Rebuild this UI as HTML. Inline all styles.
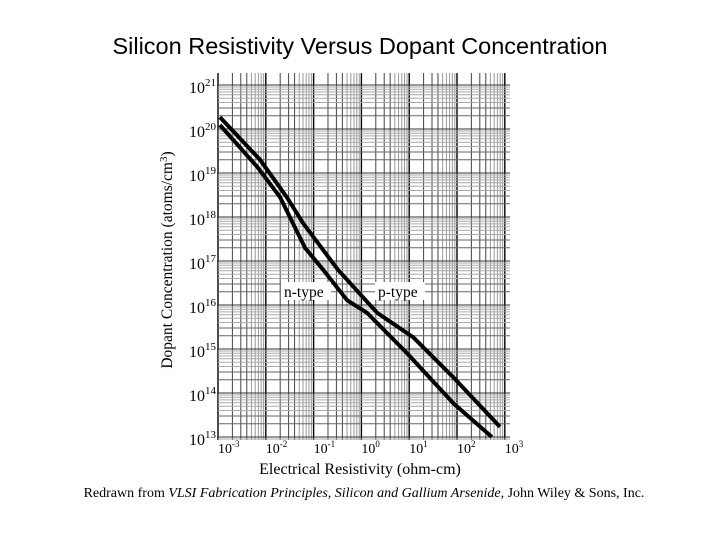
<!DOCTYPE html>
<html><head><meta charset="utf-8"><style>
body{margin:0;width:720px;height:540px;background:#fff;overflow:hidden;font-family:"Liberation Serif",serif}
</style></head><body>
<svg width="720" height="540">
<text x="360" y="54" text-anchor="middle" font-family="Liberation Sans,sans-serif" font-size="23.5">Silicon Resistivity Versus Dopant Concentration</text>
<g id="grid"></g>
<g id="ticks"></g>
<g id="curves"></g>
<rect x="281" y="282" width="50" height="18" fill="#fff"/>
<text x="284" y="297" font-size="15.5">n-type</text>
<rect x="375" y="282" width="50" height="18" fill="#fff"/>
<text x="378" y="297" font-size="15.5">p-type</text>
<text transform="translate(172,260) rotate(-90)" text-anchor="middle" font-size="15.5">Dopant Concentration (atoms/cm<tspan dy="-5" font-size="11">3</tspan><tspan dy="5">)</tspan></text>
<text x="360" y="474" text-anchor="middle" font-size="16">Electrical Resistivity (ohm-cm)</text>
<text x="364" y="497" text-anchor="middle" font-size="14">Redrawn from <tspan font-style="italic">VLSI Fabrication Principles, Silicon and Gallium Arsenide</tspan>, John Wiley &amp; Sons, Inc.</text>
</svg>
<script>
const xDecades=[-3,-2,-1,0,1,2,3];
const yDecades=[13,14,15,16,17,18,19,20,21];
const pLogRes=[-2.96,-2.12,-1.56,-1.22,-0.49,0.33,1.08,1.92,2.90];
const pLogConc=[20.27,19.30,18.45,17.86,16.80,15.82,15.27,14.36,13.23];
const nLogRes=[-2.96,-2.18,-1.70,-1.18,-0.80,-0.30,0.12,0.95,1.92,2.73];
const nLogConc=[20.09,19.14,18.45,17.30,16.80,16.11,15.82,14.91,13.77,13.00];
const NS='http://www.w3.org/2000/svg';
const X=v=>218+(v+3)*47.8, Y=v=>85+(21-v)*44;
const L=218,R=510,T=73,B=440;
function mk(tag,attrs,parent){const e=document.createElementNS(NS,tag);for(const k in attrs)e.setAttribute(k,attrs[k]);parent.appendChild(e);return e;}
const g=document.getElementById('grid');
for(let d=-3;d<3.2;d++){for(let m=1;m<10;m++){const xv=d+Math.log10(m);const x=X(xv);if(x<L||x>R)continue;
 const ln=mk('line',{x1:x,x2:x,y1:T,y2:B,stroke:m==1?'#000':(m>=2&&m<=4?'#444':'#999'),'stroke-width':m==1?1.4:1},g);
 }}
for(let d=12;d<22;d++){for(let m=1;m<10;m++){const yv=d+Math.log10(m);const y=Y(yv);if(y<T||y>B)continue;
 const ln=mk('line',{x1:L,x2:R,y1:y,y2:y,stroke:m==1?'#333':(m<=3?'#666':'#aaa'),'stroke-width':1},g);
 }}
const t=document.getElementById('ticks');
yDecades.forEach(d=>{const e=mk('text',{x:189,y:Y(d)+8,'font-size':16},t);e.innerHTML='10<tspan dy="-7" font-size="11">'+d+'</tspan>';
 });
xDecades.forEach(d=>{mk('rect',{x:X(d)-2,y:441,width:28,height:14,fill:'#fff'},t);
 const e=mk('text',{x:X(d),y:453,'font-size':14},t);e.innerHTML='10<tspan dy="-6" font-size="9">'+d+'</tspan>';
 });
const c=document.getElementById('curves');
function curve(xs,ys,name){const d=xs.map((v,i)=>(i?'L':'M')+X(v).toFixed(1)+','+Y(ys[i]).toFixed(1)).join(' ');
 const p=mk('path',{d:d,fill:'none',stroke:'#000','stroke-width':4,'stroke-linejoin':'round'},c);
 }
curve(pLogRes,pLogConc,'p-type-curve');
curve(nLogRes,nLogConc,'n-type-curve');
</script>
</body></html>
